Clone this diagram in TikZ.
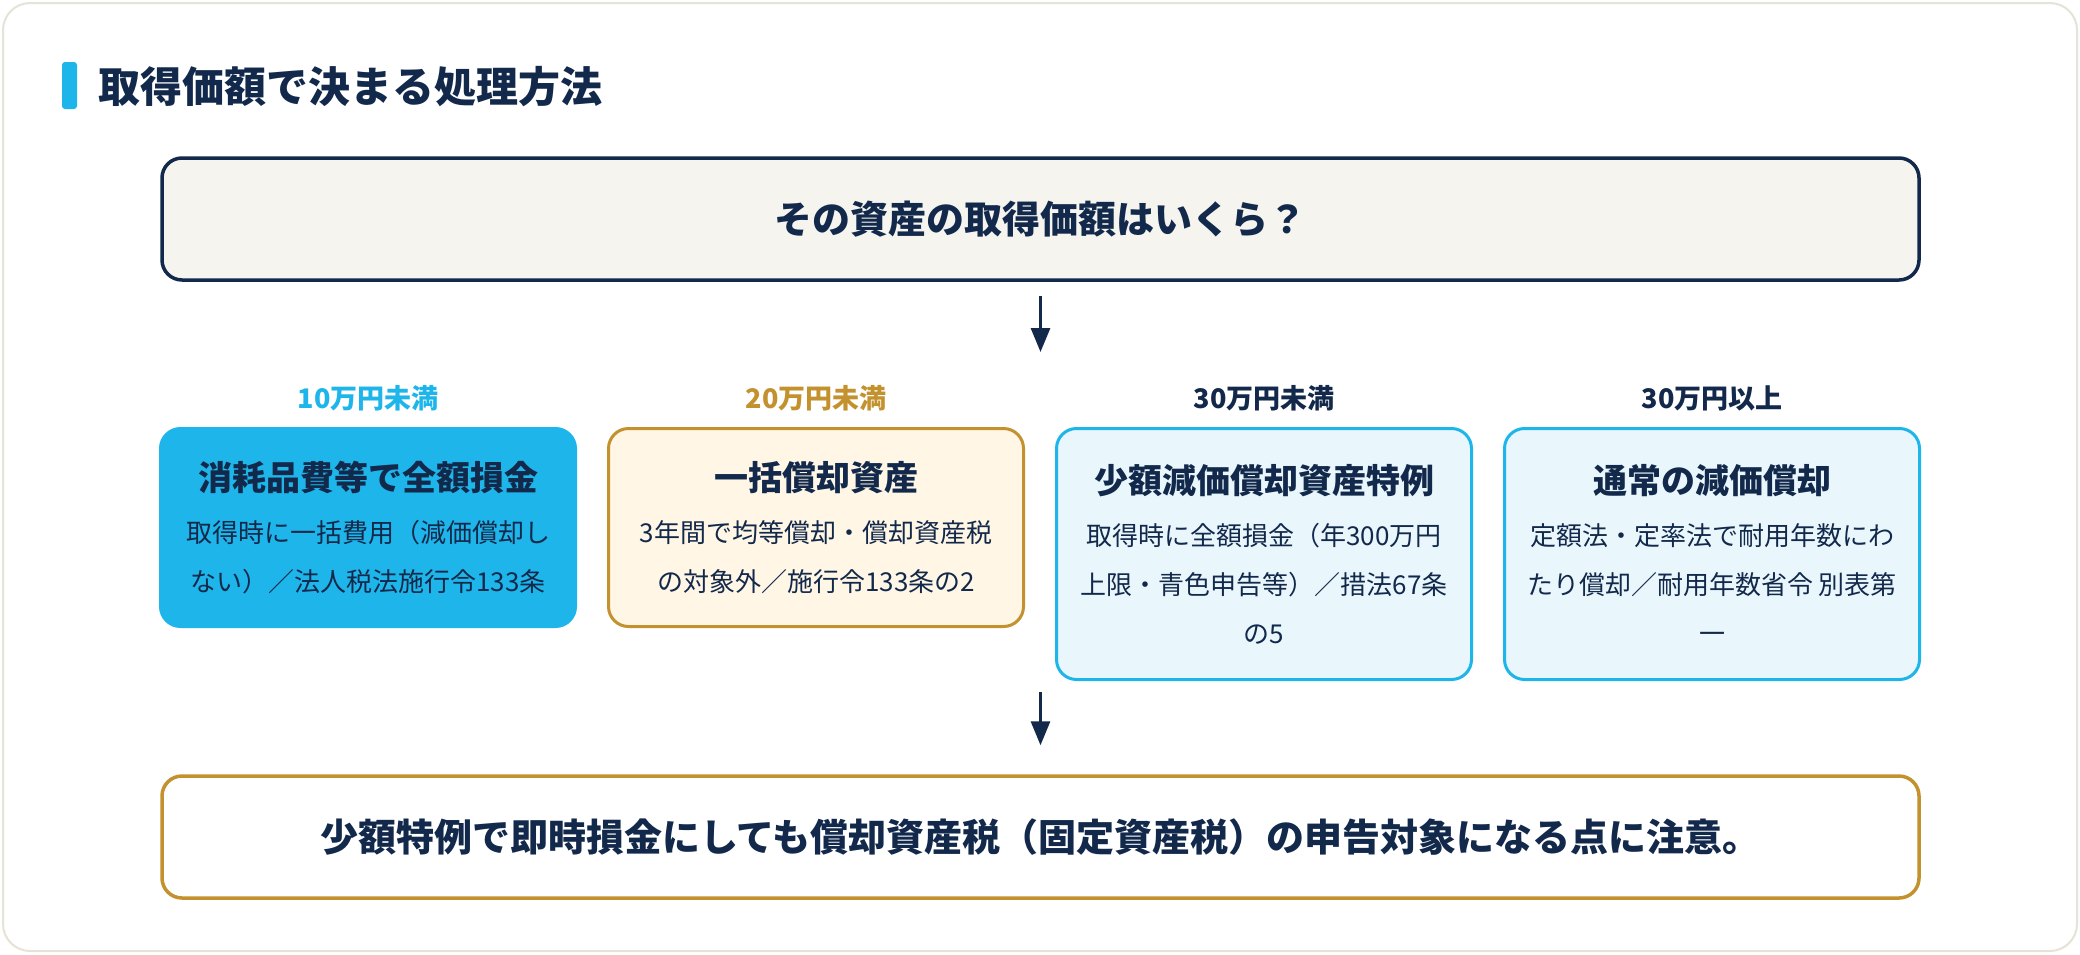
\documentclass[tikz,border=0pt]{standalone}
\usepackage{fontspec}
\setmainfont{Noto Sans CJK JP}
\usetikzlibrary{arrows.meta}

\definecolor{navy}{HTML}{13294B}
\definecolor{sky}{HTML}{1EB6EA}
\definecolor{gold}{HTML}{C4912F}
\definecolor{cream}{HTML}{FFF6E5}
\definecolor{ice}{HTML}{E9F7FD}
\definecolor{paper}{HTML}{F5F4EF}
\definecolor{rim}{HTML}{E5E3D7}

\tikzset{
  plate/.style={rounded corners=20pt, line width=3pt, minimum width=415pt,
    align=center, text=navy, anchor=north, inner sep=0pt,
    font=\fontsize{26}{49}\selectfont},
  banner/.style={rounded corners=20pt, line width=3.5pt, minimum width=1757pt,
    minimum height=122pt, text=navy, font=\fontsize{38}{44}\selectfont\bfseries},
  tier/.style={font=\fontsize{27}{32}\selectfont\bfseries},
  flow/.style={draw=navy, line width=3pt, -{Triangle[width=19pt,length=24pt]}}
}
\newcommand{\platehead}[1]{{\fontsize{34}{49}\selectfont\bfseries #1}}

\begin{document}
\begin{tikzpicture}[x=1pt, y=-1pt]
  % Page and frame
  \useasboundingbox (0,0) rectangle (2080,954);
  \draw[rim, fill=white, line width=2pt, rounded corners=27pt] (3,3) rectangle (2077,951);

  % Heading
  \fill[sky, rounded corners=3pt] (62,62) rectangle (77,109);
  \node[anchor=west, inner sep=0pt, text=navy, font=\fontsize{42}{50}\selectfont\bfseries]
    (head) at (98,87) {取得価額で決まる処理方法};

  % Question
  \node[banner, draw=navy, fill=paper] (quest) at (1040.5,219) {その資産の取得価額はいくら？};
  \coordinate (split) at (1040.5,352);
  \draw[flow, shorten <=14pt] (quest) -- (split);

  % Price tiers
  \node[tier, text=sky] (t1) at (368,398) {10万円未満};
  \node[tier, text=gold] (t2) at (816,398) {20万円未満};
  \node[tier, text=navy] (t3) at (1264,398) {30万円未満};
  \node[tier, text=navy] (t4) at (1712,398) {30万円以上};

  \node[plate, draw=sky, fill=sky, minimum height=198pt] (b1) at (368,427)
    {\platehead{消耗品費等で全額損金}\\[3pt]取得時に一括費用（減価償却し\\ない）／法人税法施行令133条};
  \node[plate, draw=gold, fill=cream, minimum height=198pt] (b2) at (816,427)
    {\platehead{一括償却資産}\\[3pt]3年間で均等償却・償却資産税\\の対象外／施行令133条の2};
  \node[plate, draw=sky, fill=ice, minimum height=251pt] (b3) at (1264,427)
    {\platehead{少額減価償却資産特例}\\[3pt]取得時に全額損金（年300万円\\上限・青色申告等）／措法67条\\の5};
  \node[plate, draw=sky, fill=ice, minimum height=251pt] (b4) at (1712,427)
    {\platehead{通常の減価償却}\\[3pt]定額法・定率法で耐用年数にわ\\たり償却／耐用年数省令 別表第\\一};

  % Caution
  \coordinate (merge) at (1040.5,678);
  \node[banner, draw=gold, fill=white] (note) at (1040.5,837)
    {少額特例で即時損金にしても償却資産税（固定資産税）の申告対象になる点に注意。};
  \draw[flow, shorten <=14pt, shorten >=29pt] (merge) -- (note);
\end{tikzpicture}
\end{document}
